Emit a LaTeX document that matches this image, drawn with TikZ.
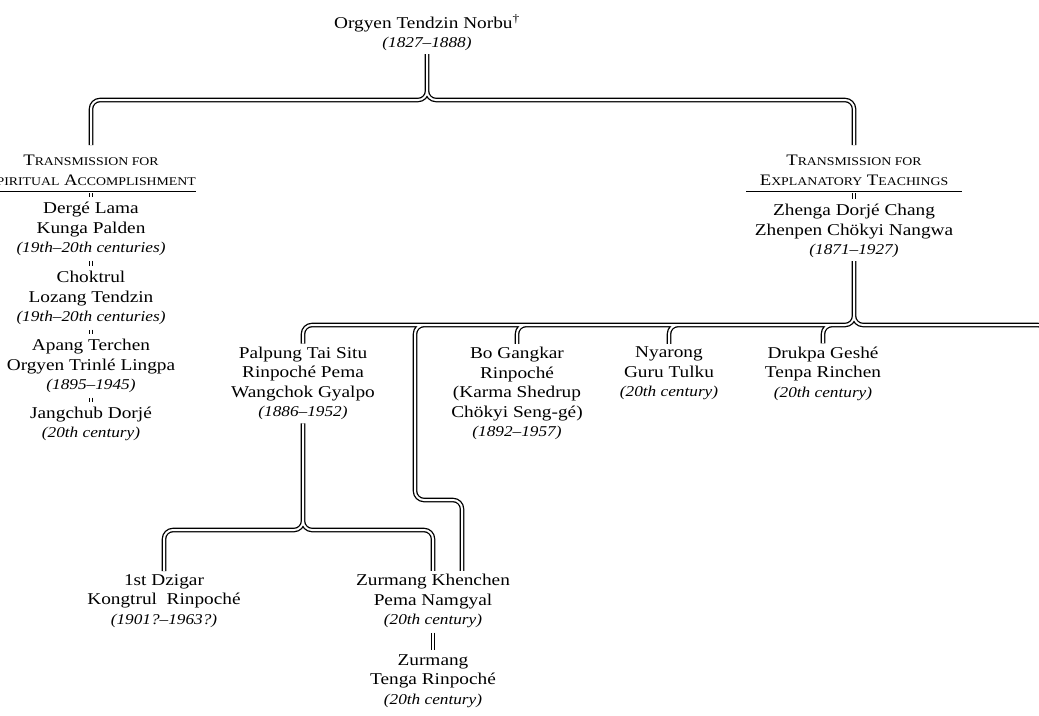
\documentclass[tikz,border=0pt]{standalone}
\usepackage{fontspec}
\setmainfont{Liberation Serif}[FakeStretch=1.17]
\newfontfamily\datefont{Liberation Serif}[FakeStretch=1.15]
% italic life dates and small capitals for the two headings
\newcommand\lifespan[1]{{\datefont\itshape\fontsize{15}{19.5}\selectfont #1}}
\newcommand\hsc[1]{{\fontsize{11.8}{19.5}\selectfont #1}}

\tikzset{
  person/.style={align=center, inner xsep=0pt, inner ysep=3pt,
    font=\fontsize{16.5}{19.5}\selectfont},
  heading/.style={align=center, anchor=north, inner xsep=0pt, inner ysep=6pt,
    font=\fontsize{16}{19.5}\selectfont},
  lineage/.style={line width=4.6pt, rounded corners=9pt},
  lineagecore/.style={line width=2pt, white, rounded corners=9pt},
  succession/.style={line width=3.2pt, shorten <=1.5pt, shorten >=1.5pt},
  successioncore/.style={line width=1.2pt, white, shorten <=1.5pt, shorten >=1.5pt},
  rule/.style={line width=0.8pt},
}

% double-lined branches, drawn as one union so the joints merge
\newcommand\lineagepaths{
  (root.south) -- (j0) -| ([yshift=4pt]lh.north)
  (root.south) -- (j0) -| ([yshift=4pt]rh.north)
  (zh.south) -- (j1) -| (pa.north)
  (zh.south) -- (j1) -| (bo.north)
  (zh.south) -- (j1) -| (ny.north)
  (zh.south) -- (j1) -| (dr.north)
  (zh.south) -- (j1) -| (edge)
  (zh.south) -- (j1) -| (bend) -| (zkr)
  (pa.south) -- (j2) -| (dz.north)
  (pa.south) -- (j2) -| (zk.north)
}

\begin{document}
\begin{tikzpicture}[x=1pt, y=-1pt]
\useasboundingbox (0,0) rectangle (1039,715);
\clip (0,0) rectangle (1039,715);

% root
\node[person] (root) at (427,32.5)
  {Orgyen Tendzin Norbu\textsuperscript{\textdagger}\\ \lifespan{(1827–1888)}};

% headings of the two transmissions
\node[heading, minimum width=210pt] (lh) at (91,149)
  {T\hsc{RANSMISSION FOR}\\ S\hsc{PIRITUAL} A\hsc{CCOMPLISHMENT}};
\node[heading, minimum width=215pt] (rh) at (854,149)
  {T\hsc{RANSMISSION FOR}\\ E\hsc{XPLANATORY} T\hsc{EACHINGS}};
\draw[rule] (lh.south west) -- (lh.south east);
\draw[rule] (rh.south west) -- (rh.south east);

% spiritual accomplishment line
\node[person] (dk) at (91,229)
  {Dergé Lama\\ Kunga Palden\\ \lifespan{(19th–20th centuries)}};
\node[person] (ch) at (91,298)
  {Choktrul\\ Lozang Tendzin\\ \lifespan{(19th–20th centuries)}};
\node[person] (ap) at (91,366)
  {Apang Terchen\\ Orgyen Trinlé Lingpa\\ \lifespan{(1895–1945)}};
\node[person] (jd) at (91,424)
  {Jangchub Dorjé\\ \lifespan{(20th century)}};

% explanatory teachings line
\node[person] (zh) at (854,231)
  {Zhenga Dorjé Chang\\ Zhenpen Chökyi Nangwa\\ \lifespan{(1871–1927)}};
\node[person] (pa) at (303,383.5)
  {Palpung Tai Situ\\ Rinpoché Pema\\ Wangchok Gyalpo\\ \lifespan{(1886–1952)}};
\node[person] (bo) at (517,393.5)
  {Bo Gangkar\\ Rinpoché\\ (Karma Shedrup\\ Chökyi Seng-gé)\\ \lifespan{(1892–1957)}};
\node[person] (ny) at (669,373.5)
  {Nyarong\\ Guru Tulku\\ \lifespan{(20th century)}};
\node[person] (dr) at (823,373.5)
  {Drukpa Geshé\\ Tenpa Rinchen\\ \lifespan{(20th century)}};
\node[person] (dz) at (164,601)
  {1st Dzigar\\ Kongtrul\ \ Rinpoché\\ \lifespan{(1901?–1963?)}};
\node[person] (zk) at (433,601)
  {Zurmang Khenchen\\ Pema Namgyal\\ \lifespan{(20th century)}};
\node[person] (zt) at (433,681)
  {Zurmang\\ Tenga Rinpoché\\ \lifespan{(20th century)}};

% junctions and bends
\coordinate (j0) at (427,100);
\coordinate (j1) at (854,325);
\coordinate (j2) at (303,530);
\coordinate (bend) at (415,500);
\coordinate (edge) at (1047,400);
\coordinate (zkr) at ([xshift=29pt]zk.north);

\draw[lineage] \lineagepaths;
\draw[lineagecore] \lineagepaths;

% short double bars between successive holders
\foreach \a/\b in {lh/dk, dk/ch, ch/ap, ap/jd, rh/zh} {
  \draw[succession] (\a.south) -- (\b.north);
  \draw[successioncore] (\a.south) -- (\b.north);
}
\draw[succession, line width=4pt] (zk.south) -- (zt.north);
\draw[successioncore, line width=1.6pt] (zk.south) -- (zt.north);
\end{tikzpicture}
\end{document}
